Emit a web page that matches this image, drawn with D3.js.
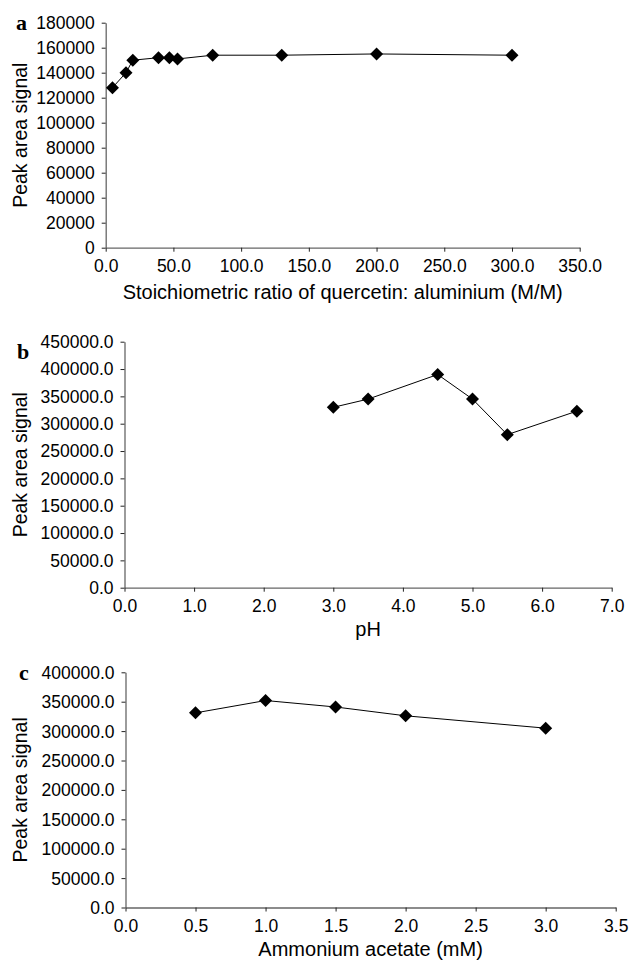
<!DOCTYPE html>
<html>
<head>
<meta charset="utf-8">
<script src="https://cdn.jsdelivr.net/npm/d3@7"></script>
<style>
  html, body { margin: 0; padding: 0; background: #fff; }
  svg { display: block; }
  text { font-family: "Liberation Sans", Arial, sans-serif; fill: #000; }
</style>
</head>
<body>
<svg id="chart" width="630" height="963"></svg>
<script>
// ---- Data ----
// Panel a: stoichiometric ratio vs peak area
const ratioX = [5, 15, 20, 39, 47, 53, 79, 130, 200, 300];
const ratioY = [128000, 140000, 150000, 152000, 152000, 151000, 154000, 154000, 155000, 154000];
// Panel b: pH vs peak area
const phX = [3.0, 3.5, 4.5, 5.0, 5.5, 6.5];
const phY = [330000, 345000, 390000, 345000, 280000, 323000];
// Panel c: ammonium acetate vs peak area
const acetateX = [0.5, 1.0, 1.5, 2.0, 3.0];
const acetateY = [331000, 352000, 341000, 326000, 305000];

// Tick values
const ticksAx = [0, 50, 100, 150, 200, 250, 300, 350];
const ticksAy = [0, 20000, 40000, 60000, 80000, 100000, 120000, 140000, 160000, 180000];
const ticksBx = [0, 1, 2, 3, 4, 5, 6, 7];
const ticksBy = [0, 50000, 100000, 150000, 200000, 250000, 300000, 350000, 400000, 450000];
const ticksCx = [0, 0.5, 1.0, 1.5, 2.0, 2.5, 3.0, 3.5];
const ticksCy = [0, 50000, 100000, 150000, 200000, 250000, 300000, 350000, 400000];

const panelLetters = ["a", "b", "c"];
const xTitles = ["Stoichiometric ratio of quercetin: aluminium (M/M)", "pH", "Ammonium acetate (mM)"];
const yTitle = "Peak area signal";

// ---- Layout ----
const panels = [
  { xs: ratioX, ys: ratioY, xt: ticksAx, yt: ticksAy, xf: d3.format(".1f"), yf: d3.format("d"),
    left: 105.7, right: 579.7, top: 22.7, bottom: 247.7, xTitleY: 299, letterX: 16, letterY: 29.5 },
  { xs: phX, ys: phY, xt: ticksBx, yt: ticksBy, xf: d3.format(".1f"), yf: d3.format(".1f"),
    left: 124.5, right: 611.7, top: 341.7, bottom: 587.7, xTitleY: 636, letterX: 17, letterY: 358.5 },
  { xs: acetateX, ys: acetateY, xt: ticksCx, yt: ticksCy, xf: d3.format(".1f"), yf: d3.format(".1f"),
    left: 125.5, right: 615.7, top: 672.3, bottom: 907.5, xTitleY: 956, letterX: 19, letterY: 680 }
];

const svg = d3.select("#chart");
const axisColor = "#666";

panels.forEach((p, i) => {
  const x = d3.scaleLinear().domain([p.xt[0], p.xt[p.xt.length - 1]]).range([p.left, p.right]);
  const y = d3.scaleLinear().domain([p.yt[0], p.yt[p.yt.length - 1]]).range([p.bottom, p.top]);
  const g = svg.append("g");

  // x axis
  const gx = g.append("g")
    .attr("transform", `translate(0,${p.bottom})`)
    .call(d3.axisBottom(x).tickValues(p.xt).tickFormat(p.xf).tickSize(4).tickSizeOuter(0));
  gx.select(".domain").attr("stroke", axisColor).attr("stroke-width", 1.3);
  gx.selectAll(".tick line").attr("stroke", "#222");
  gx.selectAll(".tick text").attr("y", 24).attr("dy", 0)
    .style("font-size", "17.5px").style("font-family", "'Liberation Sans', Arial, sans-serif").attr("fill", "#000");

  // y axis
  const gy = g.append("g")
    .attr("transform", `translate(${p.left},0)`)
    .call(d3.axisLeft(y).tickValues(p.yt).tickFormat(p.yf).tickSize(4).tickSizeOuter(0));
  gy.select(".domain").attr("stroke", axisColor).attr("stroke-width", 1.3);
  gy.selectAll(".tick line").attr("stroke", "#222");
  gy.selectAll(".tick text").attr("x", -11).attr("dy", "0.34em")
    .style("font-size", "17.5px").style("font-family", "'Liberation Sans', Arial, sans-serif").attr("fill", "#000");

  // line
  const pts = p.xs.map((v, k) => [v, p.ys[k]]);
  g.append("path")
    .datum(pts)
    .attr("fill", "none")
    .attr("stroke", "#000")
    .attr("stroke-width", 1)
    .attr("d", d3.line().x(d => x(d[0])).y(d => y(d[1])));

  // diamond markers
  const r = 6.5;
  g.selectAll("path.marker")
    .data(pts)
    .join("path")
    .attr("class", "marker")
    .attr("fill", "#000")
    .attr("d", d => {
      const cx = x(d[0]), cy = y(d[1]);
      return `M${cx},${cy - r}L${cx + r},${cy}L${cx},${cy + r}L${cx - r},${cy}Z`;
    });

  // x title
  g.append("text")
    .attr("x", (p.left + p.right) / 2)
    .attr("y", p.xTitleY)
    .attr("text-anchor", "middle")
    .style("font-size", "20px")
    .text(xTitles[i]);

  // y title
  g.append("text")
    .attr("transform", `translate(26.5,${(p.top + p.bottom) / 2}) rotate(-90)`)
    .attr("text-anchor", "middle")
    .style("font-size", "19.5px")
    .text(yTitle);

  // panel letter
  g.append("text")
    .attr("x", p.letterX)
    .attr("y", p.letterY)
    .style("font-family", "'Liberation Serif', 'Times New Roman', serif")
    .style("font-weight", "bold")
    .style("font-size", "22px")
    .text(panelLetters[i]);
});
</script>
</body>
</html>
